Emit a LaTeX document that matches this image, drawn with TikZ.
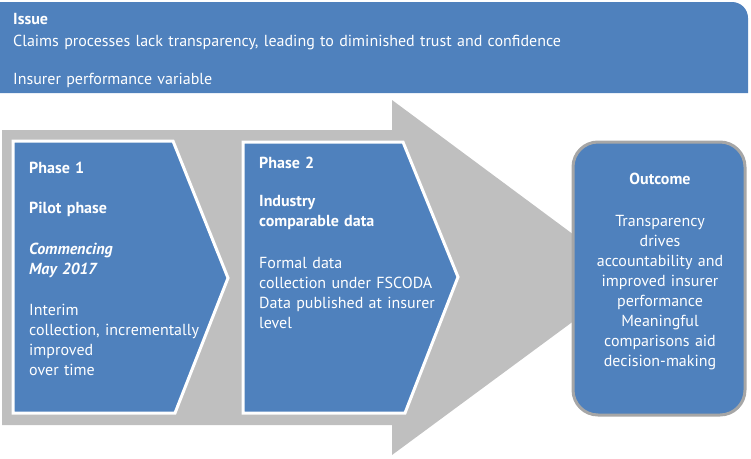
\documentclass[tikz,border=0pt]{standalone}
\usepackage{fontspec}
\setmainfont{PT Sans}
\usetikzlibrary{positioning}
\definecolor{issueblue}{HTML}{4F81BD}
\definecolor{arrowgrey}{HTML}{BFBFBF}
\definecolor{edgegrey}{HTML}{A6A6A6}
\begin{document}
\begin{tikzpicture}[x=1pt,y=-1pt,
  txt/.style={anchor=base west,inner sep=0pt,text=white,align=left,text width=215pt,font=\fontsize{16}{20}\selectfont},
  bold/.style={font=\fontsize{16}{20}\selectfont\bfseries},
  ctxt/.style={anchor=base,inner sep=0pt,text=white,align=center,text width=170pt,font=\fontsize{16}{20}\selectfont},
  phase/.style={fill=issueblue,draw=white,line width=3pt,line join=miter}]
\useasboundingbox (0,0) rectangle (751,458);
% issue banner
\fill[issueblue] (0,93) -- (0,2) -- (732,2) to[out=0,in=90] (748,18) -- (748,93) -- cycle;
\node[txt,bold] (issue) at (13,24) {Issue};
\node[txt,text width=720pt] (claims) at (13,46) {Claims processes lack transparency, leading to diminished trust and confidence};
\node[txt] (insurer) at (13,84) {Insurer performance variable};
% grey arrow
\fill[arrowgrey] (2,130) -- (392,130) -- (392,100) -- (632,278) -- (392,455) -- (392,425) -- (2,425) -- cycle;
% phase 1
\draw[phase] (13,141) -- (173,141) -- (228,278) -- (175,413) -- (13,413) -- cycle;
\node[txt,bold] (p1head) at (29,173) {Phase 1\\[20pt]Pilot phase};
\node[txt,font=\fontsize{16}{20}\selectfont\bfseries\itshape] (p1date) at (29,254) {Commencing\\May 2017};
\node[txt] (p1body) at (29,315) {Interim\\collection, incrementally\\improved\\over time};
% phase 2
\draw[phase] (243,142) -- (403,142) -- (458,277) -- (405,413) -- (243,413) -- cycle;
\node[txt,bold] (p2head) at (259,168) {Phase 2};
\node[txt,bold] (p2title) at (259,206) {Industry\\comparable data};
\node[txt] (p2body) at (259,268) {Formal data\\collection under FSCODA\\Data published at insurer\\level};
% outcome
\node[draw=edgegrey,line width=3pt,fill=issueblue,rounded corners=25pt,minimum width=172pt,minimum height=273pt] (outbox) at (659,278.5) {};
\node[ctxt,bold] (outhead) at (660,184) {Outcome};
\node[ctxt] (outbody) at (660,226) {Transparency\\drives\\accountability and\\improved insurer\\performance\\Meaningful\\comparisons aid\\decision-making};
\end{tikzpicture}
\end{document}
